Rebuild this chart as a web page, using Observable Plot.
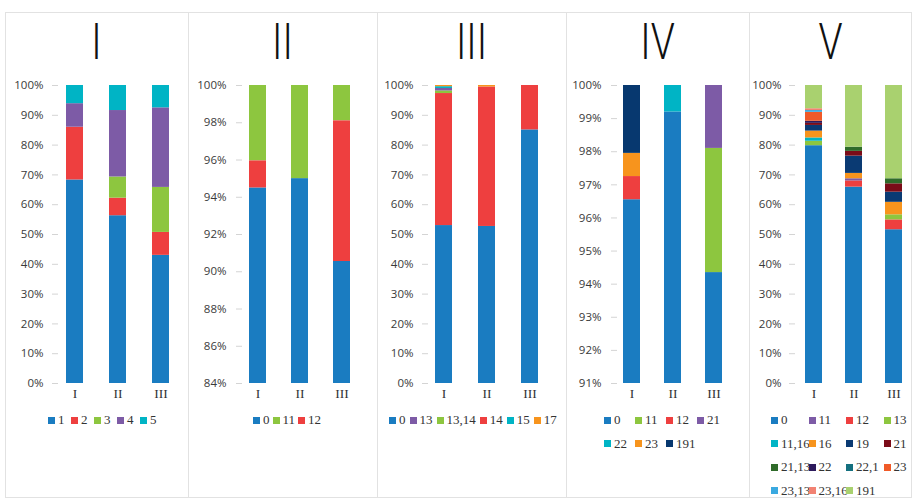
<!DOCTYPE html>
<html><head><meta charset="utf-8">
<script src="https://cdn.jsdelivr.net/npm/d3@7"></script>
<script src="https://cdn.jsdelivr.net/npm/@observablehq/plot@0.6"></script>
<style>
body{margin:0;background:#fff;}
#root{position:relative;width:914px;height:503px;overflow:hidden;background:#fff;}
.plot{position:absolute;top:0;}
.plot g[aria-label="y-axis tick"]{stroke:#d4d4d4;}
.legend{position:absolute;font-family:"Liberation Serif","Times New Roman",serif;font-size:13px;color:#333;line-height:16px;}
.legend.flex{display:flex;}
.legend.grid{display:grid;}
.item{display:flex;align-items:center;white-space:nowrap;}
.sw{width:7px;height:7px;margin-right:3px;flex:none;}
#overlay{position:absolute;left:0;top:0;pointer-events:none;}
</style></head>
<body><div id="root"></div>
<script>
// ---- data ----
const categories = ["I", "II", "III"];
const panelTitles = ["I", "II", "III", "IV", "V"];

const p1Series = ["1", "2", "3", "4", "5"];
const p1Colors = ["#1a7cc1", "#ee3f3f", "#8dc63f", "#7d5ba6", "#00b4c5"];
const p1Order = ["1", "2", "3", "4", "5"];
const p1Values = [
  [68.3, 56.3, 43.0],
  [17.7, 5.9, 7.7],
  [0, 7.1, 15.1],
  [7.9, 22.3, 26.7],
  [6.1, 8.4, 7.5]
];
const p1Ticks = [0, 10, 20, 30, 40, 50, 60, 70, 80, 90, 100];

const p2Series = ["0", "11", "12"];
const p2Colors = ["#1a7cc1", "#8dc63f", "#ee3f3f"];
const p2Order = ["0", "12", "11"];
const p2Values = [
  [94.5, 95.0, 90.55],
  [4.05, 5.0, 1.9],
  [1.45, 0, 7.55]
];
const p2Ticks = [84, 86, 88, 90, 92, 94, 96, 98, 100];

const p3Series = ["0", "13", "13,14", "14", "15", "17"];
const p3Colors = ["#1a7cc1", "#7d5ba6", "#8dc63f", "#ee3f3f", "#00b4c5", "#f7941d"];
const p3Order = ["0", "14", "13,14", "13", "15", "17"];
const p3Values = [
  [53.0, 52.7, 85.1],
  [0.9, 0, 0],
  [0.8, 0, 0],
  [44.3, 46.8, 14.9],
  [0.6, 0, 0],
  [0.4, 0.5, 0]
];
const p3Ticks = [0, 10, 20, 30, 40, 50, 60, 70, 80, 90, 100];

const p4Series = ["0", "11", "12", "21", "22", "23", "191"];
const p4Colors = ["#1a7cc1", "#8dc63f", "#ee3f3f", "#7d5ba6", "#00b4c5", "#f7941d", "#07386f"];
const p4Order = ["0", "11", "12", "21", "22", "23", "191"];
const p4Values = [
  [96.55, 99.2, 94.35],
  [0, 0, 3.75],
  [0.7, 0, 0],
  [0, 0, 1.9],
  [0, 0.8, 0],
  [0.7, 0, 0],
  [2.05, 0, 0]
];
const p4Ticks = [91, 92, 93, 94, 95, 96, 97, 98, 99, 100];

const p5Series = ["0", "11", "12", "13", "11,16", "16", "19", "21", "21,13", "22", "22,1", "23", "23,13", "23,16", "191"];
const p5Colors = ["#1a7cc1", "#7d5ba6", "#ee3f3f", "#8dc63f", "#00b4c5", "#f7941d", "#0a3a73", "#7b0c18", "#2f6b2a", "#2d1a5c", "#14707f", "#f05a28", "#3aa9e0", "#f28272", "#a9d16f"];
const p5Order = ["0", "12", "11", "13", "11,16", "16", "19", "21", "21,13", "22", "22,1", "23", "23,13", "23,16", "191"];
const p5Values = [
  [79.8, 65.9, 51.6],
  [0, 0.8, 0],
  [0, 2.0, 3.3],
  [1.5, 0, 1.7],
  [1.1, 0, 0],
  [2.3, 1.8, 4.2],
  [1.9, 5.8, 3.4],
  [0.7, 1.6, 2.8],
  [0, 1.4, 1.7],
  [0.7, 0, 0],
  [0, 0, 0],
  [3.0, 0, 0],
  [0.6, 0, 0],
  [0.6, 0, 0],
  [7.8, 20.7, 31.3]
];
const p5Ticks = [0, 10, 20, 30, 40, 50, 60, 70, 80, 90, 100];

// ---- layout ----
const panelLeft = [5, 188, 377, 566, 749];
const panelRight = [188, 377, 566, 749, 912];
const layouts = [
  {c0: 69, step: 43.2, bw: 17, ml: 53, pad: 9, legend: {left: 48, gap: 6.5}},
  {c0: 68.7, step: 42.7, bw: 17, ml: 54, pad: 10, legend: {left: 253, gap: 3}},
  {c0: 66, step: 43.2, bw: 17, ml: 51, pad: 9, legend: {left: 389, gap: 4}},
  {c0: 64.7, step: 41.3, bw: 17, ml: 51, pad: 10, legend: {left: 604, cols: 4, colW: 31}},
  {c0: 63.3, step: 40.7, bw: 17, ml: 46, pad: 8, legend: {left: 771, cols: 4, colW: 37.5}}
];
const panels = [
  {series: p1Series, colors: p1Colors, order: p1Order, values: p1Values, ticks: p1Ticks},
  {series: p2Series, colors: p2Colors, order: p2Order, values: p2Values, ticks: p2Ticks},
  {series: p3Series, colors: p3Colors, order: p3Order, values: p3Values, ticks: p3Ticks},
  {series: p4Series, colors: p4Colors, order: p4Order, values: p4Values, ticks: p4Ticks},
  {series: p5Series, colors: p5Colors, order: p5Order, values: p5Values, ticks: p5Ticks}
];

const root = document.getElementById("root");
const H = 410, top0 = 85, bottom0 = 383;

panels.forEach((p, k) => {
  const L = layouts[k];
  const w = panelRight[k] - panelLeft[k];
  const rows = p.series.flatMap((s, i) => categories.map((c, j) => ({cat: c, series: s, value: p.values[i][j]})))
    .filter(d => d.value > 0);
  const pi = 1 - L.bw / L.step;
  const chart = Plot.plot({
    width: w,
    height: H,
    marginTop: top0,
    marginBottom: H - bottom0,
    marginLeft: L.ml,
    marginRight: 0,
    style: {background: "transparent", fontFamily: "'Open Sans', sans-serif", fontSize: "11.5px", color: "#3a3a3a", overflow: "visible"},
    x: {domain: categories, range: [L.c0 - L.step / 2, L.c0 + 2.5 * L.step], paddingInner: pi, paddingOuter: pi / 2, axis: null},
    y: {domain: [p.ticks[0], 100], clamp: true, axis: null},
    color: {domain: p.series, range: p.colors},
    marks: [
      Plot.barY(rows, {x: "cat", y: "value", fill: "series", order: p.order}),
      Plot.axisY(p.ticks, {tickSize: 6, tickPadding: L.pad, tickFormat: d => d + "%", label: null, fill: "#3a3a3a", stroke: "#d4d4d4"}),
      Plot.axisX(categories, {tickSize: 0, tickPadding: 5, label: null, fontFamily: "'Liberation Serif', 'Times New Roman', serif", fontSize: 13.5, fill: "#333"})
    ]
  });
  chart.classList.add("plot");
  chart.style.left = panelLeft[k] + "px";
  root.appendChild(chart);

  // legend
  const lg = document.createElement("div");
  const o = L.legend;
  lg.className = "legend " + (o.cols ? "grid" : "flex");
  lg.style.left = o.left + "px";
  lg.style.top = "412px";
  if (o.cols) {
    lg.style.gridTemplateColumns = `repeat(${o.cols}, ${o.colW}px)`;
    lg.style.rowGap = "7.5px";
  } else {
    lg.style.columnGap = o.gap + "px";
  }
  p.series.forEach((s, i) => {
    const it = document.createElement("div");
    it.className = "item";
    const sw = document.createElement("span");
    sw.className = "sw";
    sw.style.background = p.colors[i];
    it.appendChild(sw);
    it.appendChild(document.createTextNode(s));
    lg.appendChild(it);
  });
  root.appendChild(lg);
});

// overlay: frames and titles
const ns = "http://www.w3.org/2000/svg";
const ov = document.createElementNS(ns, "svg");
ov.setAttribute("id", "overlay");
ov.setAttribute("width", 914);
ov.setAttribute("height", 503);
const rect = document.createElementNS(ns, "rect");
rect.setAttribute("x", 5.5); rect.setAttribute("y", 12.5);
rect.setAttribute("width", 906); rect.setAttribute("height", 485);
rect.setAttribute("fill", "none"); rect.setAttribute("stroke", "#e2e2e2");
ov.appendChild(rect);
panelLeft.slice(1).forEach(x => {
  const ln = document.createElementNS(ns, "line");
  ln.setAttribute("x1", x + 0.5); ln.setAttribute("x2", x + 0.5);
  ln.setAttribute("y1", 12); ln.setAttribute("y2", 497);
  ln.setAttribute("stroke", "#e2e2e2");
  ov.appendChild(ln);
});
panelTitles.forEach((t, k) => {
  const tx = document.createElementNS(ns, "text");
  const cx = (panelLeft[k] + panelRight[k]) / 2;
  tx.setAttribute("transform", `translate(${cx},59) scale(0.78,1)`);
  tx.setAttribute("text-anchor", "middle");
  tx.setAttribute("font-family", "Roboto, sans-serif");
  tx.setAttribute("font-weight", "300");
  tx.setAttribute("font-size", "50");
  tx.setAttribute("fill", "#111");
  tx.textContent = t;
  ov.appendChild(tx);
});
root.appendChild(ov);
</script>
</body></html>
